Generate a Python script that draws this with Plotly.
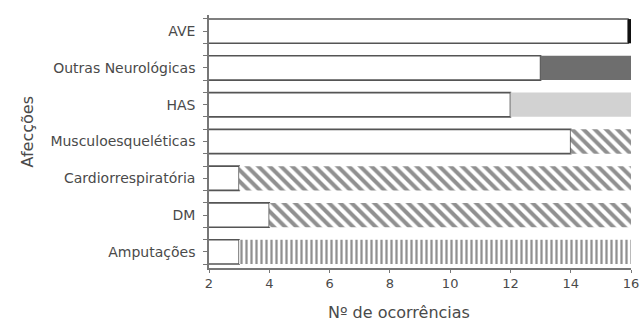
import plotly.graph_objects as go

# Data (top to bottom as in the reference)
categories = ["AVE", "Outras Neurológicas", "HAS", "Musculoesqueléticas",
              "Cardiorrespiratória", "DM", "Amputações"]
first_values = [15.9, 13, 12, 14, 3, 4, 3]
second_values = [0.1, 3, 4, 2, 13, 12, 13]
x_ticks = [2, 4, 6, 8, 10, 12, 14, 16]

n = len(categories)
ypos = [n - 1 - i for i in range(n)]

FONT = "DejaVu Sans"
TXT = "#4a4a4a"
BAR_W = 0.66

fig = go.Figure()
# white first segment
fig.add_trace(go.Bar(
    y=ypos, x=first_values, base=[0] * n, orientation="h", width=BAR_W,
    marker=dict(color="white", line=dict(color="#555555", width=1.6)),
    showlegend=False, hoverinfo="skip",
))

# second segments, grouped by fill style
solid_idx = [0, 1, 2]
solid_colors = ["#111111", "#6e6e6e", "#d2d2d2"]
fig.add_trace(go.Bar(
    y=[ypos[i] for i in solid_idx], x=[second_values[i] for i in solid_idx],
    base=[first_values[i] for i in solid_idx], orientation="h", width=BAR_W,
    marker=dict(color=solid_colors, line=dict(width=0)),
    showlegend=False, hoverinfo="skip",
))
diag_idx = [3, 4, 5]
fig.add_trace(go.Bar(
    y=[ypos[i] for i in diag_idx], x=[second_values[i] for i in diag_idx],
    base=[first_values[i] for i in diag_idx], orientation="h", width=BAR_W,
    marker=dict(color="white", line=dict(width=0),
                pattern=dict(shape="\\", fgcolor="#222222", bgcolor="white",
                             size=8, solidity=0.5, fillmode="overlay")),
    showlegend=False, hoverinfo="skip",
))
vert_idx = [6]
fig.add_trace(go.Bar(
    y=[ypos[i] for i in vert_idx], x=[second_values[i] for i in vert_idx],
    base=[first_values[i] for i in vert_idx], orientation="h", width=BAR_W,
    marker=dict(color="white", line=dict(width=0),
                pattern=dict(shape="|", fgcolor="#222222", bgcolor="white",
                             size=5, solidity=0.45, fillmode="overlay")),
    showlegend=False, hoverinfo="skip",
))

fig.update_layout(
    barmode="overlay",
    width=641, height=321,
    margin=dict(l=209, r=10, t=15, b=53, autoexpand=False),
    paper_bgcolor="white", plot_bgcolor="white",
    font=dict(family=FONT, color=TXT),
    xaxis=dict(
        range=[2, 16], tickvals=x_ticks, ticktext=[str(v) for v in x_ticks],
        showgrid=False, zeroline=False, showline=True, linecolor="#777777",
        linewidth=1.5, ticks="outside", ticklen=3, tickcolor="#777777",
        tickfont=dict(size=13, family=FONT, color=TXT),
        ticklabeloverflow="allow", automargin=False,
    ),
    yaxis=dict(
        range=[-0.44, 6.44], tickvals=ypos, ticktext=categories,
        showgrid=False, zeroline=False, showline=True, linecolor="#777777",
        linewidth=1.5, ticks="outside", ticklen=4, tickcolor="#777777",
        tickfont=dict(size=14, family=FONT, color=TXT),
        ticklabelstandoff=5, automargin=False,
        minor=dict(tick0=0, dtick=1/3, ticks="outside", ticklen=4,
                   tickcolor="#777777", showgrid=False),
    ),
    annotations=[
        dict(text="Nº de ocorrências", x=0.45, y=-0.174, xref="paper", yref="paper",
             xanchor="center", yanchor="middle", showarrow=False,
             font=dict(size=16, family=FONT, color=TXT)),
        dict(text="Afecções", x=-0.43, y=0.538, xref="paper", yref="paper",
             xanchor="center", yanchor="middle", showarrow=False, textangle=-90,
             font=dict(size=16, family=FONT, color=TXT)),
    ],
)

fig.write_html("out.html", config={"displayModeBar": False},
               post_script="document.body.style.margin='0';document.body.style.overflow='hidden';")
